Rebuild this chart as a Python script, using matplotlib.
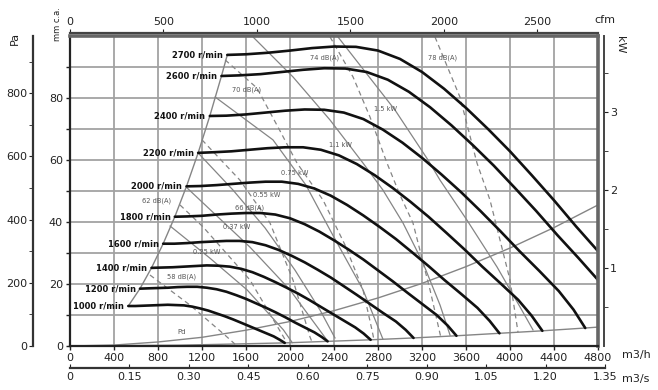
import matplotlib
matplotlib.use("Agg")
import matplotlib.pyplot as plt
from matplotlib.ticker import FixedLocator, MultipleLocator

# ------------------------------
# fan curves (m3/h, mm c.a.)
# ------------------------------
rpm = [1000, 1200, 1400, 1600, 1800, 2000, 2200, 2400, 2600, 2700]

q1000 = [530, 593, 667, 741, 815, 889, 963, 1037, 1111, 1185, 1259, 1333, 1407, 1481, 1556, 1630, 1704, 1778, 1852, 1907, 1952]
p1000 = [12.9, 12.9, 13.0, 13.1, 13.2, 13.3, 13.2, 13.1, 12.7, 12.1, 11.4, 10.5, 9.6, 8.6, 7.5, 6.4, 5.3, 4.2, 3.1, 2.0, 1.0]
q1200 = [636, 711, 800, 889, 978, 1067, 1156, 1244, 1333, 1422, 1511, 1600, 1689, 1778, 1867, 1956, 2044, 2133, 2222, 2289, 2342]
p1200 = [18.5, 18.6, 18.7, 18.8, 19.0, 19.1, 19.1, 18.8, 18.3, 17.5, 16.4, 15.2, 13.8, 12.4, 10.9, 9.3, 7.6, 6.0, 4.4, 2.9, 1.5]
q1400 = [741, 830, 933, 1037, 1141, 1244, 1348, 1452, 1556, 1659, 1763, 1867, 1970, 2074, 2178, 2281, 2385, 2489, 2593, 2670, 2733]
p1400 = [25.2, 25.3, 25.4, 25.6, 25.8, 26.0, 25.9, 25.6, 24.9, 23.8, 22.3, 20.6, 18.8, 16.9, 14.8, 12.6, 10.4, 8.2, 6.0, 4.0, 2.0]
q1600 = [847, 948, 1067, 1185, 1304, 1422, 1541, 1659, 1778, 1896, 2015, 2133, 2252, 2370, 2489, 2607, 2726, 2844, 2963, 3052, 3123]
p1600 = [33.0, 33.0, 33.2, 33.5, 33.7, 33.9, 33.9, 33.5, 32.5, 31.0, 29.1, 27.0, 24.6, 22.1, 19.3, 16.5, 13.6, 10.7, 7.9, 5.2, 2.6]
q1800 = [953, 1067, 1200, 1333, 1467, 1600, 1733, 1867, 2000, 2133, 2267, 2400, 2533, 2667, 2800, 2933, 3067, 3200, 3333, 3433, 3513]
p1800 = [41.7, 41.8, 42.0, 42.4, 42.7, 42.9, 42.9, 42.4, 41.2, 39.3, 36.9, 34.1, 31.1, 27.9, 24.4, 20.9, 17.2, 13.6, 10.0, 6.6, 3.3]
q2000 = [1059, 1185, 1333, 1481, 1630, 1778, 1926, 2074, 2222, 2370, 2519, 2667, 2815, 2963, 3111, 3259, 3407, 3556, 3704, 3815, 3904]
p2000 = [51.5, 51.6, 51.9, 52.3, 52.7, 53.0, 53.0, 52.3, 50.8, 48.5, 45.5, 42.1, 38.4, 34.5, 30.2, 25.8, 21.2, 16.8, 12.3, 8.1, 4.1]
q2200 = [1165, 1304, 1467, 1630, 1793, 1956, 2119, 2281, 2444, 2607, 2770, 2933, 3096, 3259, 3422, 3585, 3748, 3911, 4074, 4196, 4294]
p2200 = [62.3, 62.5, 62.8, 63.3, 63.8, 64.1, 64.1, 63.3, 61.5, 58.7, 55.1, 51.0, 46.5, 41.7, 36.5, 31.2, 25.6, 20.3, 14.9, 9.8, 4.9]
q2400 = [1271, 1422, 1600, 1778, 1956, 2133, 2311, 2489, 2667, 2844, 3022, 3200, 3378, 3556, 3733, 3911, 4089, 4267, 4444, 4578, 4684]
p2400 = [74.2, 74.3, 74.7, 75.3, 75.9, 76.3, 76.2, 75.3, 73.2, 69.8, 65.6, 60.7, 55.3, 49.6, 43.5, 37.1, 30.5, 24.2, 17.7, 11.7, 5.8]
q2600 = [1377, 1541, 1733, 1926, 2119, 2311, 2504, 2696, 2889, 3081, 3274, 3467, 3659, 3852, 4044, 4237, 4430, 4622, 4800]
p2600 = [87.1, 87.3, 87.7, 88.4, 89.1, 89.6, 89.5, 88.4, 85.9, 82.0, 77.0, 71.2, 64.9, 58.2, 51.0, 43.6, 35.8, 28.4, 21.3]
q2700 = [1430, 1600, 1800, 2000, 2200, 2400, 2600, 2800, 3000, 3200, 3400, 3600, 3800, 4000, 4200, 4400, 4600, 4800]
p2700 = [93.9, 94.1, 94.6, 95.3, 96.1, 96.6, 96.5, 95.3, 92.6, 88.4, 83.0, 76.8, 70.0, 62.8, 55.0, 47.0, 38.6, 30.6]

curves_q = [q1000, q1200, q1400, q1600, q1800, q2000, q2200, q2400, q2600, q2700]
curves_p = [p1000, p1200, p1400, p1600, p1800, p2000, p2200, p2400, p2600, p2700]

# lower limit and dynamic pressure
limit_q = [0, 1000, 1952, 2342, 2733, 3123, 3513, 3904, 4294, 4684, 4800]
limit_p = [0, 0.26, 1.0, 1.5, 2.0, 2.6, 3.3, 4.1, 4.9, 5.8, 6.1]
pd_q = [0, 400, 800, 1200, 1600, 2000, 2400, 2800, 3200, 3600, 4000, 4400, 4800]
pd_p = [0, 0.3, 1.3, 2.8, 5.1, 7.9, 11.4, 15.5, 20.2, 25.6, 31.6, 38.2, 45.5]

# motor power lines (solid)
kw_names = ["0.25 kW", "0.37 kW", "0.55 kW", "0.75 kW", "1.1 kW", "1.5 kW"]
kw_q = [[910, 1270, 1610, 1940, 2020],
        [1064, 1636, 2000, 2336],
        [1164, 1482, 1773, 2045, 2273, 2409],
        [1320, 1845, 2145, 2364, 2664, 2845],
        [1655, 2027, 2364, 2664, 2845, 3027, 3209, 3364, 3455],
        [2436, 2955, 3255, 3364, 3609, 3882, 4091, 4209]]
kw_p = [[38.7, 28.4, 18.1, 5.2, 1.1],
        [51.0, 31.9, 18.1, 1.9],
        [62.3, 50.3, 38.1, 24.5, 11.6, 2.6],
        [80.3, 66.5, 51.9, 37.4, 18.1, 2.2],
        [100, 86.8, 72.9, 59.0, 50.3, 39.7, 26.8, 13.2, 3.5],
        [99.7, 76.1, 60.0, 53.5, 40.6, 25.5, 12.6, 5.2]]
kw_label_q = [1245, 1518, 1791, 2045, 2455, 2864]
kw_label_p = [30.3, 38.4, 48.7, 55.8, 64.8, 76.5]

# sound level lines (dashed)
db_names = ["58 dB(A)", "62 dB(A)", "66 dB(A)", "70 dB(A)", "74 dB(A)", "78 dB(A)"]
db_q = [[727, 1091, 1409, 1500],
        [1000, 1210, 1636, 1973],
        [1200, 1545, 1818, 2027, 2182, 2200],
        [1410, 1700, 1909, 2064, 2300, 2500, 2664, 2745, 2764],
        [2364, 2573, 2727, 2882, 3000, 3118, 3273, 3370],
        [3318, 3545, 3700, 3818, 4000, 4073]]
db_p = [[22.9, 13.2, 3.5, 0.6],
        [45.5, 38.4, 21.3, 1.0],
        [66.5, 53.5, 39.7, 21.3, 2.9, 1.3],
        [92.3, 83.2, 69.4, 59.0, 47.1, 32.6, 18.1, 5.2, 1.9],
        [99.7, 86.8, 73.9, 59.0, 48.7, 39.7, 18.1, 3.0],
        [99.7, 80.3, 59.0, 47.1, 21.3, 4.4]]
db_label_q = [1018, 791, 1636, 1609, 2318, 3391]
db_label_p = [22.3, 46.8, 44.5, 82.6, 92.9, 92.9]

m3s_ticks = [0, 0.15, 0.30, 0.45, 0.60, 0.75, 0.90, 1.05, 1.20, 1.35]
m3s_labels = ["0", "0.15", "0.30", "0.45", "0.60", "0.75", "0.90", "1.05", "1.20", "1.35"]

# ------------------------------
# figure
# ------------------------------
W, H = 658, 390
fig = plt.figure(figsize=(W / 100, H / 100), dpi=100)
ax = fig.add_axes([70 / W, 1 - 346 / H, 528 / W, 310 / H])
ax.set_xlim(0, 4800)
ax.set_ylim(0, 100)

grid_c = "#a2a2a2"
line_c = "#858585"
txt_c = "#222222"

ax.xaxis.set_major_locator(MultipleLocator(400))
ax.yaxis.set_major_locator(FixedLocator([0, 20, 40, 60, 80]))
ax.yaxis.set_minor_locator(FixedLocator([10, 30, 50, 70, 90]))
ax.grid(which="both", color=grid_c, lw=1.3)
ax.set_axisbelow(True)
ax.tick_params(axis="both", which="both", direction="out", length=3, width=1,
               labelsize=8, colors=txt_c, pad=2)
for s in ["left", "bottom"]:
    ax.spines[s].set_linewidth(1.6)
    ax.spines[s].set_color("#222222")
for s in ["top", "right"]:
    ax.spines[s].set_linewidth(2.6)
    ax.spines[s].set_color("#666666")

# gray construction lines
stall_q = [q[0] for q in curves_q]
stall_p = [p[0] for p in curves_p]
ax.plot(stall_q, stall_p, color=line_c, lw=1.0)
ax.plot(limit_q, limit_p, color=line_c, lw=1.0)
ax.plot(pd_q, pd_p, color=line_c, lw=1.0)
ax.text(1018, 4.5, "Pd", fontsize=5, color="#555555", ha="center", va="center")

for q, p, name, lq, lp in zip(kw_q, kw_p, kw_names, kw_label_q, kw_label_p):
    ax.plot(q, p, color=line_c, lw=0.9)
    ax.text(lq, lp, name, fontsize=4.8, color="#555555", ha="center", va="center")
for q, p, name, lq, lp in zip(db_q, db_p, db_names, db_label_q, db_label_p):
    ax.plot(q, p, color=line_c, lw=0.9, dashes=(4, 3))
    ax.text(lq, lp, name, fontsize=4.8, color="#555555", ha="center", va="center")

# fan curves
for q, p, n in zip(curves_q, curves_p, rpm):
    ax.plot(q, p, color="#111111", lw=1.9, solid_capstyle="round", solid_joinstyle="round")
    ax.text(q[0] - 40, p[0], f"{n} r/min", fontsize=6, fontweight="bold",
            color="#111111", ha="right", va="center")

# top axis in cfm
top = ax.secondary_xaxis(1.01, functions=(lambda x: x / 1.699, lambda x: x * 1.699))
top.set_xticks([0, 500, 1000, 1500, 2000, 2500])
top.tick_params(direction="out", length=3, labelsize=8, colors=txt_c, pad=1)
top.spines["top"].set_linewidth(1.6)
top.spines["top"].set_color("#444444")

# left axis in Pa
pa = ax.secondary_yaxis(-0.07, functions=(lambda y: y * 9.81, lambda y: y / 9.81))
pa.set_yticks([0, 200, 400, 600, 800])
pa.yaxis.set_minor_locator(FixedLocator([100, 300, 500, 700, 900]))
pa.tick_params(which="both", direction="out", length=3, labelsize=8, colors=txt_c, pad=1)
pa.spines["left"].set_linewidth(1.6)
pa.spines["left"].set_color("#333333")

# right axis in kW
kw = ax.secondary_yaxis(1.012, functions=(lambda y: y / 25.2, lambda y: y * 25.2))
kw.set_yticks([1, 2, 3])
kw.yaxis.set_minor_locator(FixedLocator([0.5, 1.5, 2.5, 3.5]))
kw.tick_params(which="both", direction="out", length=3, labelsize=8, colors=txt_c, pad=1)
kw.spines["right"].set_linewidth(1.4)
kw.spines["right"].set_color("#444444")

# bottom axis in m3/s
axs = fig.add_axes([70 / W, 1 - 368 / H, 535 / W, 0.001])
axs.set_xlim(0, 1.35)
axs.set_xticks(m3s_ticks)
axs.set_xticklabels(m3s_labels)
axs.set_yticks([])
for s in ["left", "right", "top"]:
    axs.spines[s].set_visible(False)
axs.spines["bottom"].set_linewidth(1.6)
axs.spines["bottom"].set_color("#333333")
axs.tick_params(axis="x", direction="in", length=3, labelsize=8, colors=txt_c, pad=3)
axs.patch.set_visible(False)

# axis names
fig.text(15 / W, 1 - 38 / H, "Pa", rotation=90, fontsize=8, color=txt_c, ha="center", va="center")
fig.text(57 / W, 1 - 24 / H, "mm c.a.", rotation=90, fontsize=6, color=txt_c, ha="center", va="center")
fig.text(605 / W, 1 - 20 / H, "cfm", fontsize=8, color=txt_c, ha="center", va="center")
fig.text(620 / W, 1 - 45 / H, "kW", rotation=270, fontsize=8, color=txt_c, ha="center", va="center")
fig.text(622 / W, 1 - 355 / H, "m3/h", fontsize=8, color=txt_c, ha="left", va="center")
fig.text(622 / W, 1 - 379 / H, "m3/s", fontsize=8, color=txt_c, ha="left", va="center")

fig.savefig("out.png", dpi=100)
